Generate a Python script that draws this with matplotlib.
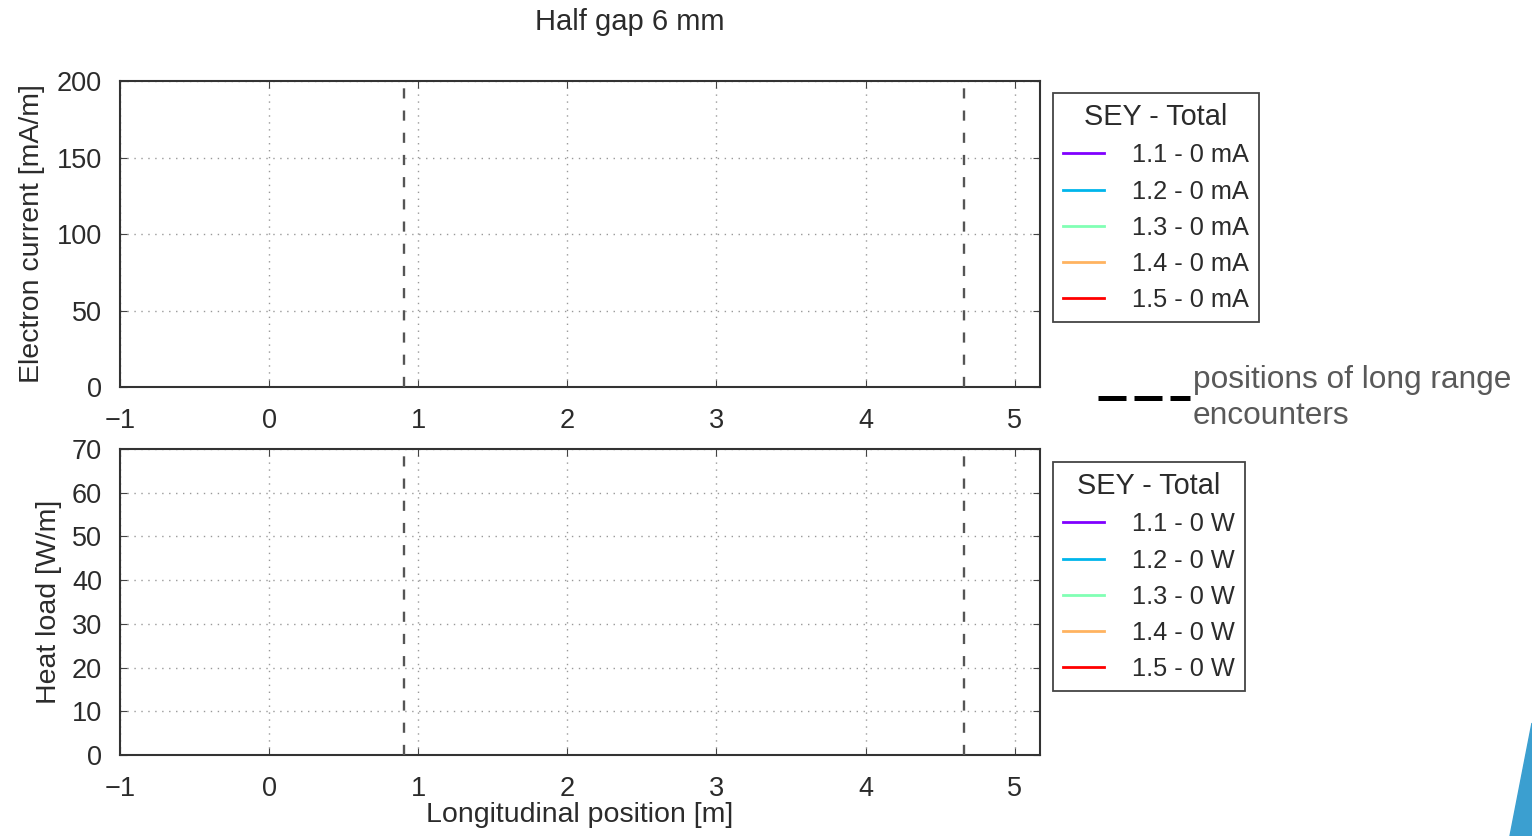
"""
Electron current and heat load along the IR, half gap 6 mm.
Two stacked panels with SEY legend on the right.
"""

import matplotlib
matplotlib.use("Agg")
import matplotlib.pyplot as plt
from matplotlib.lines import Line2D
from matplotlib.patches import Polygon
from matplotlib import cm
import numpy as np

# --------------------------- data ---------------------------

sey_values = [1.1, 1.2, 1.3, 1.4, 1.5]
total_current_mA = [0, 0, 0, 0, 0]
total_heat_W = [0, 0, 0, 0, 0]

position_m = [0.0, 4.2]
current_profiles = [
    [0.0, 0.0],
    [0.0, 0.0],
    [0.0, 0.0],
    [0.0, 0.0],
    [0.0, 0.0],
]
heat_profiles = [
    [0.0, 0.0],
    [0.0, 0.0],
    [0.0, 0.0],
    [0.0, 0.0],
    [0.0, 0.0],
]

long_range_positions = [0.906, 4.66]

x_ticks = [-1, 0, 1, 2, 3, 4, 5]
current_ticks = [0, 50, 100, 150, 200]
heat_ticks = [0, 10, 20, 30, 40, 50, 60, 70]

# --------------------------- style ---------------------------

plt.rcParams["font.family"] = ["Liberation Sans", "DejaVu Sans"]
TXT = "#2b2b2b"
W, H = 1532, 836

colors = cm.rainbow(np.linspace(0, 1, len(sey_values)))


def _panel(ax, profiles, totals, unit, ylabel, yticks, ylim, label_x, leg_top):
    for prof, sey, tot, c in zip(profiles, sey_values, totals, colors):
        ax.plot(position_m, prof, color=c, lw=2, label=f"{sey} - {tot} {unit}")
    for xp in long_range_positions:
        ax.axvline(xp, color="#555555", lw=1.7, ls=(0, (4.3, 5.1)), zorder=3)
    ax.set_xlim(-1, 5.17)
    ax.set_ylim(*ylim)
    ax.set_xticks(x_ticks)
    ax.set_yticks(yticks)
    ax.grid(True, color="#999999", lw=1.0, ls=(0, (1, 4)))
    ax.tick_params(direction="in", top=True, right=True, length=5,
                   labelsize=19.5, labelcolor=TXT, color="#444444")
    ax.tick_params(axis="x", pad=15)
    ax.tick_params(axis="y", pad=13)
    for sp in ax.spines.values():
        sp.set_color("#333333")
        sp.set_linewidth(1.5)
    ax.set_ylabel(ylabel, fontsize=20.5, color=TXT)
    ax.yaxis.set_label_coords(label_x, 0.5)
    leg = ax.legend(title="SEY - Total", loc="upper left", bbox_to_anchor=(1.014, leg_top),
                    borderaxespad=0, fontsize=18.3, title_fontsize=20.8, fancybox=False,
                    edgecolor="#444444", framealpha=1, handlelength=1.6,
                    handletextpad=1.1, labelspacing=0.48, borderpad=0.4)
    leg.get_frame().set_linewidth(1.3)
    for t in leg.get_texts():
        t.set_color(TXT)
    leg.get_title().set_color(TXT)
    return leg


fig = plt.figure(figsize=(W / 100, H / 100), dpi=100)
ax1 = fig.add_axes([120 / W, 1 - 387 / H, 920 / W, 306 / H])
ax2 = fig.add_axes([120 / W, 1 - 755 / H, 920 / W, 306 / H])

_panel(ax1, current_profiles, total_current_mA, "mA", "Electron current [mA/m]",
       current_ticks, (0, 200), -0.0815, 0.961)
_panel(ax2, heat_profiles, total_heat_W, "W", "Heat load [W/m]",
       heat_ticks, (0, 70), -0.063, 0.9575)

ax2.set_xlabel("Longitudinal position [m]", fontsize=20.5, color=TXT, labelpad=0)

fig.text(630 / W, 1 - 22 / H, "Half gap 6 mm", ha="center", va="center",
         fontsize=21, color=TXT)

# key for the dashed lines
lr_handle = Line2D([], [], color="black", lw=3.6, ls=(0, (5.6, 1.6)))
lr_leg = fig.legend([lr_handle], ["positions of long range\nencounters"], loc="center left",
                    bbox_to_anchor=(1098 / W, 1 - 398 / H), frameon=False, borderpad=0,
                    borderaxespad=0, handlelength=2.9, handletextpad=0.1, fontsize=22.8,
                    labelcolor="#595959")
for t in lr_leg.get_texts():
    t.set_linespacing(1.27)

# slide decoration in the bottom right corner
fig.patches.append(Polygon([(1510 / W, 0), (1, 1 - 723 / H), (1, 0)],
                           closed=True, transform=fig.transFigure,
                           color="#3b9fd0", zorder=0))

fig.savefig("out.png", dpi=100)
